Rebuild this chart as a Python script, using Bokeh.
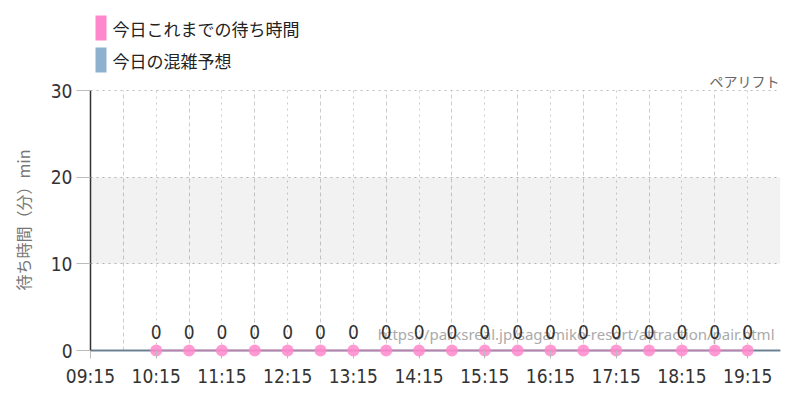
from bokeh.plotting import figure
from bokeh.models import (Label, LabelSet, BoxAnnotation, FixedTicker, Range1d, ColumnDataSource,
                          Title, Span)
from bokeh.core.properties import value
from bokeh.embed import file_html
from bokeh.resources import INLINE

# ---- data ----
x_tick_labels = ["09:15", "10:15", "11:15", "12:15", "13:15", "14:15", "15:15",
                 "16:15", "17:15", "18:15", "19:15"]
x_minor_labels = ["09:45", "10:45", "11:45", "12:45", "13:45", "14:45", "15:45",
                  "16:45", "17:45", "18:45", "19:45"]
wait_times = ["10:15", "10:45", "11:15", "11:45", "12:15", "12:45", "13:15", "13:45",
              "14:15", "14:45", "15:15", "15:45", "16:15", "16:45", "17:15", "17:45",
              "18:15", "18:45", "19:15"]
wait_values = [0, 0, 0, 0, 0, 0, 0, 0, 0, 0, 0, 0, 0, 0, 0, 0, 0, 0, 0]
forecast_times = ["09:15", "19:45"]
forecast_values = [0, 0]
y_ticks = [0, 10, 20, 30]
band_range = [10, 20]
legend_labels = ["今日これまでの待ち時間", "今日の混雑予想"]
title_text = "ペアリフト"
y_axis_label = "待ち時間（分）min"
watermark = "https://parksreal.jp/sagamiko-resort/attraction/pair.html"

PINK = "#ff88cc"
BLUE = "#8eb1cf"
NUM_FONT = "DejaVu Sans Condensed"
JP_FONT = "Noto Sans CJK JP"

Y_MAX = 30
PX_PER_UNIT = 260 / 30.0      # 30 units over 260 px
TOP_SPACE = 90                # px of frame kept above the value 30 for legend/title


def hrs(t):
    h, m = t.split(":")
    return int(h) + int(m) / 60.0


p = figure(width=792, height=392, output_backend="svg", toolbar_location=None,
           x_range=Range1d(hrs("09:15"), hrs("19:45")),
           y_range=Range1d(-8 / PX_PER_UNIT, Y_MAX + TOP_SPACE / PX_PER_UNIT),
           min_border_left=90, min_border_right=12, min_border_top=0, min_border_bottom=34)
p.outline_line_color = None
p.background_fill_color = "white"

# band
p.add_layout(BoxAnnotation(bottom=band_range[0], top=band_range[1],
                           fill_color="#000000", fill_alpha=0.05, line_color=None))

# axes
xt = [hrs(t) for t in x_tick_labels]
xm = [hrs(t) for t in x_minor_labels]
p.xaxis.ticker = FixedTicker(ticks=xt, minor_ticks=xm)
p.xaxis.major_label_overrides = {v: l for v, l in zip(xt, x_tick_labels)}
p.yaxis.ticker = FixedTicker(ticks=y_ticks)
for ax in (p.xaxis, p.yaxis):
    ax.axis_line_color = "#333333"
    ax.axis_line_width = 1.5
    ax.major_tick_line_color = "#bbbbbb"
    ax.minor_tick_line_color = None
    ax.major_label_text_font = NUM_FONT
    ax.major_label_text_font_size = "19px"
    ax.major_label_text_color = "#333333"
p.xaxis.axis_line_color = None
p.xaxis.major_tick_in = 8
p.xaxis.major_tick_out = 0
p.xaxis.major_label_standoff = 2
p.yaxis.major_tick_in = 0
p.yaxis.major_tick_out = 14
p.yaxis.major_label_standoff = 4
p.yaxis.bounds = (0, Y_MAX)

p.ygrid.grid_line_color = "#bbbbbb"
p.ygrid.grid_line_dash = "dotted"

xg = p.xgrid[0]
if "cross_bounds" in xg.properties():
    xg.cross_bounds = (0, Y_MAX)
    xg.grid_line_color = "#cccccc"
    xg.grid_line_dash = "dotted"
    xg.minor_grid_line_color = "#cccccc"
    xg.minor_grid_line_dash = "4 3"
else:
    xg.visible = False
    p.segment(x0=xt[1:], x1=xt[1:], y0=[0] * (len(xt) - 1), y1=[Y_MAX] * (len(xt) - 1),
              line_color="#cccccc", line_dash="dotted", level="underlay")
    p.segment(x0=xm, x1=xm, y0=[0] * len(xm), y1=[Y_MAX] * len(xm),
              line_color="#cccccc", line_dash="4 3", level="underlay")

# baseline (x axis line at 0)
p.add_layout(Span(location=0, dimension="width", line_color="#333333", line_width=1.5,
                  level="underlay"))

# series
p.line([hrs(t) for t in forecast_times], forecast_values, line_color=BLUE,
       line_width=2, line_alpha=0.6)
src = ColumnDataSource(dict(x=[hrs(t) for t in wait_times], y=wait_values,
                            lab=[str(v) for v in wait_values]))
p.line("x", "y", source=src, line_color=PINK, line_width=2, line_alpha=0.5)
p.scatter("x", "y", source=src, size=12, fill_color=PINK, line_color=None, fill_alpha=0.85)

# watermark
p.add_layout(Label(x=684, y=25, x_units="screen", y_units="screen", text=watermark,
                   text_align="right", text_baseline="middle", text_font="Noto Sans",
                   text_font_size="15px", text_color="#aaaaaa"))

p.add_layout(LabelSet(x="x", y="y", text="lab", source=src, y_offset=12,
                      text_align="center", text_baseline="bottom", text_font=value(NUM_FONT),
                      text_font_size="19px", text_color="#333333"))

# legend (inside the upper, empty part of the frame)
for i, (lab, col) in enumerate(zip(legend_labels, [PINK, BLUE])):
    top = 343 - i * 32
    p.add_layout(BoxAnnotation(left=5, right=16, top=top, bottom=top - 25,
                               left_units="screen", right_units="screen",
                               top_units="screen", bottom_units="screen",
                               fill_color=col, fill_alpha=1, line_color=None))
    p.add_layout(Label(x=22, y=top - 12.5, x_units="screen", y_units="screen", text=lab,
                       text_align="left", text_baseline="middle", text_font=JP_FONT,
                       text_font_size="17px", text_color="#222222"))

# chart name on the right
p.add_layout(Label(x=689, y=278, x_units="screen", y_units="screen", text=title_text,
                   text_align="right", text_baseline="middle", text_font=JP_FONT,
                   text_font_size="14px", text_color="#666666"))

# y axis title in the left panel
p.add_layout(Title(text=y_axis_label, align="left", offset=68, vertical_align="top",
                   text_font=JP_FONT, text_font_size="16px", text_font_style="normal",
                   text_color="#777777", standoff=21), "left")

open("out.html", "w").write(file_html(p, INLINE))
